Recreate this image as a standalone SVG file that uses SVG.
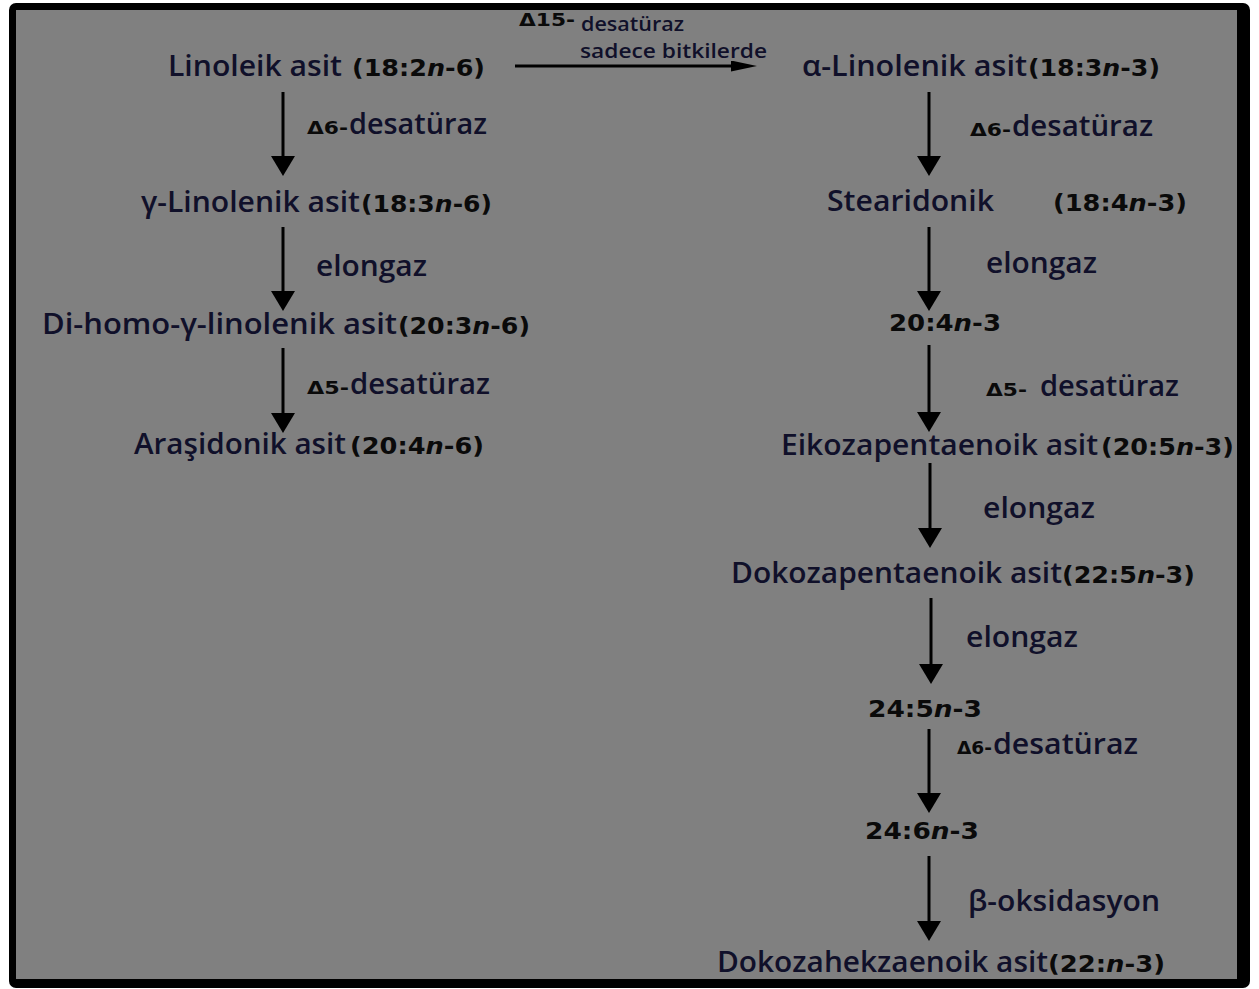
<svg xmlns="http://www.w3.org/2000/svg" width="1259" height="989" viewBox="0 0 1259 989">
<style>
.nm{font-family:"Open Sans","Liberation Sans",sans-serif;font-weight:600;font-size:28px;fill:#10102a}
.num{font-family:"DejaVu Sans","Liberation Sans",sans-serif;font-weight:bold;font-size:23.5px;fill:#0a0a0a}
.dl{font-family:"DejaVu Sans","Liberation Sans",sans-serif;font-weight:bold;font-size:17px;fill:#0a0a0a}
.sm{font-family:"Open Sans","Liberation Sans",sans-serif;font-weight:600;font-size:20px;fill:#10102a}
.ar{stroke:#000;stroke-width:3;fill:none}
</style>
<defs>
<marker id="ah" viewBox="0 0 20 24" refX="8" refY="12" markerWidth="20" markerHeight="24" orient="auto" markerUnits="userSpaceOnUse">
<path d="M0,0 L20,12 L0,24 Z" fill="#000"/>
</marker>
<marker id="ahs" viewBox="0 0 26 11" refX="12" refY="5.5" markerWidth="26" markerHeight="11" orient="auto" markerUnits="userSpaceOnUse">
<path d="M0,0 L26,5.5 L0,11 Z" fill="#000"/>
</marker>
</defs>
<rect x="0" y="0" width="1259" height="989" fill="#fff"/>
<rect x="9" y="3" width="1241" height="985" rx="7" fill="#000"/>
<rect x="16" y="10" width="1221" height="969" fill="#808080"/>

<g id="connectors">
<line class="ar" x1="283" y1="92" x2="283" y2="164" marker-end="url(#ah)"/>
<line class="ar" x1="283" y1="227" x2="283" y2="299" marker-end="url(#ah)"/>
<line class="ar" x1="283" y1="348" x2="283" y2="421" marker-end="url(#ah)"/>
<line class="ar" x1="515" y1="66" x2="743" y2="66" marker-end="url(#ahs)"/>
<line class="ar" x1="929" y1="92" x2="929" y2="164" marker-end="url(#ah)"/>
<line class="ar" x1="929" y1="227" x2="929" y2="299" marker-end="url(#ah)"/>
<line class="ar" x1="929" y1="345" x2="929" y2="420" marker-end="url(#ah)"/>
<line class="ar" x1="930" y1="463" x2="930" y2="536" marker-end="url(#ah)"/>
<line class="ar" x1="931" y1="598" x2="931" y2="672" marker-end="url(#ah)"/>
<line class="ar" x1="929" y1="729" x2="929" y2="801" marker-end="url(#ah)"/>
<line class="ar" x1="929" y1="856" x2="929" y2="929" marker-end="url(#ah)"/>
</g>

<g id="n-linoleik">
<text class="nm" x="168" y="76" textLength="174" lengthAdjust="spacingAndGlyphs">Linoleik asit</text>
<text class="num" x="352" y="76" textLength="133" lengthAdjust="spacingAndGlyphs">(18:2<tspan font-style="italic">n</tspan>-6)</text>
</g>
<g id="l-d6-left">
<text class="dl" x="307" y="134" textLength="41" lengthAdjust="spacingAndGlyphs">Δ6-</text>
<text class="nm" x="349" y="134" textLength="138" lengthAdjust="spacingAndGlyphs">desatüraz</text>
</g>
<g id="n-glinolenik">
<text class="nm" x="141" y="212" textLength="219" lengthAdjust="spacingAndGlyphs">γ-Linolenik asit</text>
<text class="num" x="361" y="212" textLength="131" lengthAdjust="spacingAndGlyphs">(18:3<tspan font-style="italic">n</tspan>-6)</text>
</g>
<g id="l-elong-left">
<text class="nm" x="316" y="276" textLength="111" lengthAdjust="spacingAndGlyphs">elongaz</text>
</g>
<g id="n-dihomo">
<text class="nm" x="42" y="334" textLength="355" lengthAdjust="spacingAndGlyphs">Di-homo-γ-linolenik asit</text>
<text class="num" x="398" y="334" textLength="132" lengthAdjust="spacingAndGlyphs">(20:3<tspan font-style="italic">n</tspan>-6)</text>
</g>
<g id="l-d5-left">
<text class="dl" x="307" y="394" textLength="42" lengthAdjust="spacingAndGlyphs">Δ5-</text>
<text class="nm" x="350" y="394" textLength="140" lengthAdjust="spacingAndGlyphs">desatüraz</text>
</g>
<g id="n-arasidonik">
<text class="nm" x="134" y="454" textLength="212" lengthAdjust="spacingAndGlyphs">Araşidonik asit</text>
<text class="num" x="350" y="454" textLength="134" lengthAdjust="spacingAndGlyphs">(20:4<tspan font-style="italic">n</tspan>-6)</text>
</g>

<g id="l-d15">
<text class="dl" x="519" y="26" textLength="56" lengthAdjust="spacingAndGlyphs">Δ15-</text>
<text class="sm" x="581" y="31" textLength="103" lengthAdjust="spacingAndGlyphs">desatüraz</text>
<text class="sm" x="580" y="58" textLength="187" lengthAdjust="spacingAndGlyphs">sadece bitkilerde</text>
</g>
<g id="n-alinolenik">
<text class="nm" x="802" y="76" textLength="225" lengthAdjust="spacingAndGlyphs">α-Linolenik asit</text>
<text class="num" x="1028" y="76" textLength="132" lengthAdjust="spacingAndGlyphs">(18:3<tspan font-style="italic">n</tspan>-3)</text>
</g>
<g id="l-d6-right">
<text class="dl" x="970" y="136" textLength="41" lengthAdjust="spacingAndGlyphs">Δ6-</text>
<text class="nm" x="1012" y="136" textLength="141" lengthAdjust="spacingAndGlyphs">desatüraz</text>
</g>
<g id="n-stearidonik">
<text class="nm" x="827" y="211" textLength="167" lengthAdjust="spacingAndGlyphs">Stearidonik</text>
<text class="num" x="1053" y="211" textLength="134" lengthAdjust="spacingAndGlyphs">(18:4<tspan font-style="italic">n</tspan>-3)</text>
</g>
<g id="l-elong-r1">
<text class="nm" x="986" y="273" textLength="111" lengthAdjust="spacingAndGlyphs">elongaz</text>
</g>
<g id="n-2043">
<text class="num" x="889" y="331" textLength="112" lengthAdjust="spacingAndGlyphs">20:4<tspan font-style="italic">n</tspan>-3</text>
</g>
<g id="l-d5-right">
<text class="dl" x="986" y="396" textLength="41" lengthAdjust="spacingAndGlyphs">Δ5-</text>
<text class="nm" x="1040" y="396" textLength="139" lengthAdjust="spacingAndGlyphs">desatüraz</text>
</g>
<g id="n-eikoza">
<text class="nm" x="781" y="455" textLength="317" lengthAdjust="spacingAndGlyphs">Eikozapentaenoik asit</text>
<text class="num" x="1101" y="455" textLength="133" lengthAdjust="spacingAndGlyphs">(20:5<tspan font-style="italic">n</tspan>-3)</text>
</g>
<g id="l-elong-r2">
<text class="nm" x="983" y="518" textLength="112" lengthAdjust="spacingAndGlyphs">elongaz</text>
</g>
<g id="n-dokozapenta">
<text class="nm" x="731" y="583" textLength="331" lengthAdjust="spacingAndGlyphs">Dokozapentaenoik asit</text>
<text class="num" x="1062" y="583" textLength="133" lengthAdjust="spacingAndGlyphs">(22:5<tspan font-style="italic">n</tspan>-3)</text>
</g>
<g id="l-elong-r3">
<text class="nm" x="966" y="647" textLength="112" lengthAdjust="spacingAndGlyphs">elongaz</text>
</g>
<g id="n-2453">
<text class="num" x="868" y="717" textLength="114" lengthAdjust="spacingAndGlyphs">24:5<tspan font-style="italic">n</tspan>-3</text>
</g>
<g id="l-d6-r2">
<text class="dl" x="957" y="754" textLength="35" lengthAdjust="spacingAndGlyphs">Δ6-</text>
<text class="nm" x="993" y="754" textLength="145" lengthAdjust="spacingAndGlyphs">desatüraz</text>
</g>
<g id="n-2463">
<text class="num" x="865" y="839" textLength="114" lengthAdjust="spacingAndGlyphs">24:6<tspan font-style="italic">n</tspan>-3</text>
</g>
<g id="l-beta">
<text class="nm" x="968" y="911" textLength="192" lengthAdjust="spacingAndGlyphs">β-oksidasyon</text>
</g>
<g id="n-dokozahekza">
<text class="nm" x="717" y="972" textLength="331" lengthAdjust="spacingAndGlyphs">Dokozahekzaenoik asit</text>
<text class="num" x="1048" y="972" textLength="117" lengthAdjust="spacingAndGlyphs">(22:<tspan font-style="italic">n</tspan>-3)</text>
</g>
</svg>
